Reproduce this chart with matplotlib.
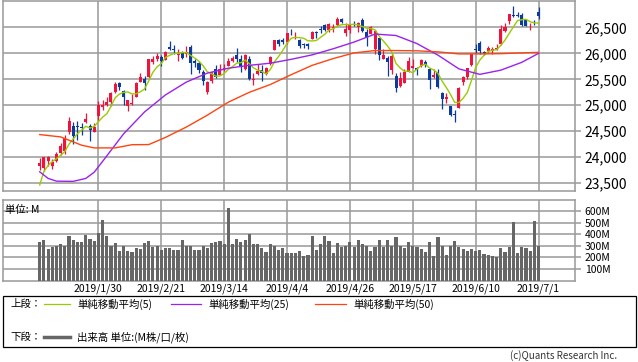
import numpy as np
import pandas as pd
import matplotlib
matplotlib.use('Agg')
import matplotlib.pyplot as plt
from matplotlib.lines import Line2D
from matplotlib.patches import Rectangle
from matplotlib.ticker import FuncFormatter

plt.rcParams['font.family'] = ['Noto Sans CJK JP', 'DejaVu Sans']

# session index of each labelled gridline and its label
label_pos = [14, 29, 44, 59, 74, 89, 104, 119]
date_labels = ['2019/1/30', '2019/2/21', '2019/3/14', '2019/4/4',
               '2019/4/26', '2019/5/17', '2019/6/10', '2019/7/1']

opens = [23830, 23790, 23930, 23820, 23930, 24080, 24110, 24480, 24600, 24600,
         24590, 24680, 24600, 24490, 24800, 24960, 25000, 25060, 25260, 25430,
         25270, 24980, 25020, 25150, 25450, 25500, 25540, 25830, 25900, 25930,
         25880, 26126, 26080, 25960, 26000, 25990, 26120, 25860, 25820, 25640,
         25260, 25460, 25700, 25580, 25690, 25750, 25860, 25970, 25890, 25700,
         25900, 25490, 25600, 25680, 25600, 25800, 26070, 26260, 26260, 26220,
         26430, 26330, 26260, 26190, 26180, 26280, 26410, 26480, 26540, 26460,
         26490, 26540, 26660, 26400, 26450, 26560, 26510, 26640, 26420, 26380,
         26080, 26290, 25900, 25920, 25680, 25560, 25370, 25430, 25650, 25720,
         25720, 25760, 25840, 25700, 25540, 25650, 25240, 25120, 24980, 24830,
         24950, 25440, 25550, 25770, 26090, 26200, 26020, 26050, 26040, 26080,
         26180, 26440, 26620, 26730, 26740, 26750, 26640, 26520, 26610, 26790]
highs = [23990, 24010, 24030, 23960, 24090, 24280, 24430, 24780, 24680, 24700,
         24650, 24850, 24640, 24650, 25090, 25100, 25150, 25250, 25440, 25440,
         25300, 25110, 25210, 25440, 25620, 25570, 25890, 25950, 26000, 25970,
         26040, 26241, 26160, 26080, 26040, 26150, 26160, 25900, 25860, 25680,
         25470, 25650, 25770, 25800, 25790, 25920, 25950, 26110, 25960, 25990,
         25950, 25620, 25800, 25770, 25730, 25950, 26260, 26270, 26300, 26390,
         26470, 26420, 26280, 26200, 26210, 26440, 26430, 26530, 26570, 26580,
         26560, 26700, 26680, 26580, 26560, 26620, 26600, 26680, 26470, 26530,
         26450, 26300, 26080, 25950, 26000, 25620, 25650, 25700, 25940, 25900,
         25740, 25900, 25880, 25700, 25690, 25690, 25260, 25240, 24990, 24900,
         25350, 25570, 25720, 26000, 26180, 26230, 26040, 26140, 26130, 26180,
         26540, 26580, 26760, 26910, 26800, 26770, 26650, 26580, 26640, 26900]
lows = [23750, 23740, 23830, 23780, 23900, 24050, 24060, 24450, 24260, 24340,
        24420, 24650, 24320, 24480, 24720, 24900, 24980, 24990, 25230, 25300,
        25000, 24880, 25000, 25150, 25440, 25300, 25530, 25800, 25850, 25760,
        25870, 26059, 25980, 25850, 25900, 25940, 25600, 25740, 25620, 25390,
        25210, 25420, 25530, 25580, 25660, 25750, 25830, 25830, 25640, 25680,
        25490, 25400, 25580, 25460, 25580, 25780, 26070, 26150, 26180, 26180,
        26360, 26280, 26100, 26100, 26090, 26270, 26300, 26400, 26430, 26410,
        26420, 26520, 26590, 26330, 26390, 26520, 26420, 26420, 26150, 26370,
        25990, 25870, 25890, 25570, 25600, 25250, 25350, 25420, 25640, 25720,
        25580, 25740, 25740, 25320, 25520, 25330, 24930, 25040, 24790, 24680,
        24950, 25400, 25500, 25760, 26000, 25990, 25960, 26030, 25990, 26060,
        26170, 26420, 26570, 26700, 26700, 26520, 26530, 26460, 26540, 26660]
closes = [23880, 24000, 23996, 23910, 24065, 24207, 24370, 24706, 24404, 24575,
          24553, 24737, 24528, 24579, 25014, 24999, 25064, 25239, 25411, 25360,
          25169, 25106, 25053, 25425, 25543, 25439, 25883, 25891, 25954, 25850,
          26031, 26092, 26057, 25985, 25916, 26026, 25819, 25806, 25673, 25473,
          25450, 25650, 25554, 25702, 25709, 25849, 25914, 25887, 25745, 25962,
          25502, 25516, 25657, 25626, 25717, 25929, 26258, 26179, 26218, 26385,
          26425, 26341, 26150, 26157, 26143, 26412, 26385, 26452, 26450, 26559,
          26511, 26656, 26597, 26462, 26543, 26554, 26593, 26430, 26308, 26505,
          26438, 25965, 25968, 25828, 25942, 25324, 25532, 25648, 25863, 25764,
          25679, 25877, 25776, 25490, 25586, 25347, 25126, 25169, 24815, 24819,
          25332, 25540, 25720, 25984, 26062, 26048, 26004, 26106, 26090, 26112,
          26466, 26504, 26753, 26719, 26727, 26548, 26536, 26526, 26600, 26717]
# closes of the four sessions before the first candle (feed the 5-day average)
pre_close = [22686, 23433, 23531, 23787]

# volume, millions
volume = [331, 348, 273, 290, 299, 313, 302, 383, 348, 331,
          331, 392, 360, 339, 406, 522, 383, 302, 322, 252,
          302, 252, 244, 284, 273, 322, 339, 290, 299, 264,
          284, 284, 264, 264, 348, 299, 302, 264, 264, 299,
          281, 322, 331, 339, 313, 625, 313, 360, 331, 348,
          400, 313, 313, 281, 244, 313, 302, 264, 281, 235,
          235, 235, 252, 209, 218, 383, 261, 313, 383, 339,
          235, 322, 290, 302, 331, 290, 348, 313, 299, 252,
          290, 348, 290, 348, 302, 374, 299, 281, 331, 302,
          290, 273, 244, 331, 209, 374, 302, 218, 302, 339,
          290, 273, 252, 273, 252, 264, 226, 218, 209, 200,
          281, 244, 290, 507, 235, 290, 281, 252, 513, 299]

# 25 / 50 day averages
ma25_idx = [0, 2, 4, 8, 11, 13, 15, 20, 25, 30, 35, 40, 45, 50, 55, 60, 65, 70,
            75, 80, 85, 90, 95, 100, 105, 110, 115, 119]
ma25 = [23717, 23590, 23537, 23533, 23590, 23710, 23918, 24448, 24871, 25200,
        25448, 25620, 25715, 25770, 25811, 25886, 25972, 26089, 26219, 26373,
        26345, 26189, 25967, 25702, 25596, 25677, 25828, 26001]
ma50_idx = [0, 5, 10, 13, 18, 22, 26, 30, 35, 40, 45, 50, 55, 60, 65, 70,
            75, 80, 85, 90, 95, 100, 105, 110, 115, 119]
ma50 = [24435, 24390, 24230, 24178, 24178, 24240, 24242, 24380, 24581, 24810,
        25060, 25250, 25400, 25590, 25770, 25900, 26010, 26055, 26055, 26050,
        26030, 25990, 25990, 25995, 26010, 26020]

RED = '#f0143c'
BLUE = '#0b3b9e'
GRID = '#999999'
C5, C25, C50 = '#99cc00', '#9a22ee', '#ff4411'

W, H = 638, 362
fig = plt.figure(figsize=(W / 100, H / 100), dpi=100)

def fx(px):
    return px / W

def fy(py):
    return 1 - py / H

ax1 = fig.add_axes([fx(3), fy(190.7), fx(572), 190.2 / H])
ax2 = fig.add_axes([fx(3), fy(280.5), fx(572), 80.5 / H])

o = np.array(opens)
c = np.array(closes)
x = np.arange(len(c))
cols = [RED if cc >= oo else BLUE for oo, cc in zip(o, c)]
bottom = np.minimum(o, c)
height = np.maximum(np.abs(c - o), 14)

ax1.vlines(x, lows, highs, colors=cols, lw=0.9, zorder=3)
ax1.bar(x, height, bottom=bottom, width=0.72, color=cols, zorder=3)

ma5 = pd.Series(pre_close + closes).rolling(5).mean().to_numpy()[len(pre_close):]
ax1.plot(x, ma5, color=C5, lw=1.0, zorder=4)
ax1.plot(ma25_idx, ma25, color=C25, lw=1.0, zorder=4)
ax1.plot(ma50_idx, ma50, color=C50, lw=1.0, zorder=4)

ax2.bar(x, volume, width=0.75, color='#666666', zorder=3)

for ax in (ax1, ax2):
    ax.set_xlim(-8.76, 127.7)
    ax.set_xticks(label_pos)
    ax.grid(True, color=GRID, lw=1.1)
    ax.set_axisbelow(True)
    ax.yaxis.tick_right()
    ax.tick_params(axis='y', length=4, color=GRID, width=1.1, pad=3)
    ax.tick_params(axis='x', length=0)
    for s in ax.spines.values():
        s.set_color(GRID)
        s.set_linewidth(1.1)

ax1.set_ylim(23353, 27020)
ax1.set_yticks(np.arange(23500, 26501, 500))
ax1.yaxis.set_major_formatter(FuncFormatter(lambda v, p: f'{int(v):,}'))
ax1.tick_params(axis='y', labelsize=10)
ax1.set_xticklabels([])

ax2.set_ylim(0, 695)
ax2.set_yticks(np.arange(100, 601, 100))
ax2.yaxis.set_major_formatter(FuncFormatter(lambda v, p: f'{int(v)}M'))
ax2.tick_params(axis='y', labelsize=7.5)
ax2.set_xticklabels(date_labels, fontsize=7.5)
ax2.tick_params(axis='x', pad=2)
ax2.text(0.004, 0.88, '単位: M', transform=ax2.transAxes, fontsize=7.5,
         va='center', ha='left')

# legend box
fig.patches.append(Rectangle((fx(3), fy(347)), fx(633), 51 / H, transform=fig.transFigure,
                             fill=False, edgecolor='black', lw=0.9))
ty1, ty2 = fy(304), fy(337)
fig.text(fx(10), ty1, '上段：', fontsize=7.5, va='center')
for x0, x1, col, label in [(44, 70, C5, '単純移動平均(5)'),
                           (171, 201, C25, '単純移動平均(25)'),
                           (315, 346, C50, '単純移動平均(50)')]:
    fig.lines.append(Line2D([fx(x0), fx(x1)], [ty1, ty1], transform=fig.transFigure,
                            color=col, lw=0.9))
    fig.text(fx(x1 + 7), ty1, label, fontsize=7.5, va='center')
fig.text(fx(10), ty2, '下段：', fontsize=7.5, va='center')
fig.lines.append(Line2D([fx(44), fx(70)], [ty2, ty2], transform=fig.transFigure,
                        color='#666666', lw=2.5))
fig.text(fx(77), ty2, '出来高 単位:(M株/口/枚)', fontsize=7.5, va='center')

fig.text(fx(617), fy(356), '(c)Quants Research Inc.', fontsize=7, ha='right',
         va='center', color='#333333')

fig.savefig('out.png', dpi=100)
